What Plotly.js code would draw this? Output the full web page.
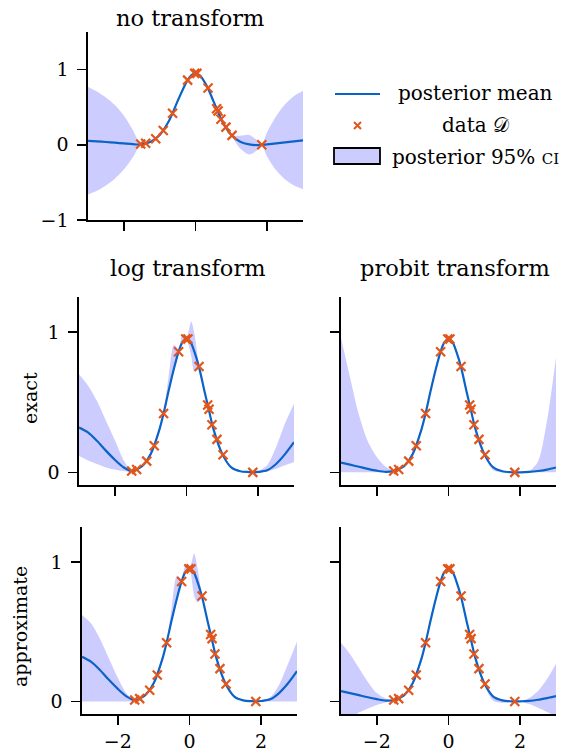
<!DOCTYPE html>
<html>
<head>
<meta charset="utf-8">
<script src="https://cdn.plot.ly/plotly-3.0.1.min.js"></script>
<style>html,body{margin:0;padding:0;background:#fff;}#chart{width:574px;height:753px;}</style>
</head>
<body>
<div id="chart"></div>
<script>
// ---- data ----
const xGrid = [-3,-2.75,-2.5,-2.25,-2,-1.75,-1.53,-1.25,-1,-0.75,-0.64,-0.5,-0.35,-0.22,-0.12,0,0.13,0.22,0.35,0.5,0.62,0.75,1,1.25,1.5,1.75,1.85,2,2.25,2.5,2.75,3];

const dataX = [-1.53,-1.39,-1.11,-0.90,-0.64,-0.22,-0.02,0.04,0.35,0.59,0.63,0.71,0.85,1.02,1.85];
const dataY = [0.01,0.02,0.08,0.19,0.42,0.86,0.95,0.95,0.755,0.48,0.45,0.34,0.235,0.125,0.0];

// no transform
const meanNone  = [0.053,0.045,0.037,0.028,0.018,0.008,0.005, 0.042,0.13,0.31,0.42,0.58,0.74,0.86,0.925,0.95,0.92,0.86,0.75,0.58,0.45,0.31,0.13, 0.04,0.005,-0.004,0.0,0.006,0.018,0.032,0.046,0.06];
const upperNone = [0.77,0.71,0.63,0.53,0.39,0.2,0.012, 0.052,0.14,0.322,0.425,0.595,0.76,0.865,0.935,0.955,0.93,0.87,0.755,0.59,0.455,0.32,0.135, 0.12,0.13,0.05,0.005,0.17,0.38,0.54,0.65,0.72];
const lowerNone = [-0.66,-0.61,-0.54,-0.45,-0.33,-0.17,0.0, 0.032,0.12,0.298,0.415,0.565,0.72,0.855,0.915,0.945,0.91,0.85,0.745,0.57,0.445,0.30,0.125, -0.05,-0.13,-0.058,-0.005,-0.16,-0.34,-0.46,-0.54,-0.59];

// log transform, exact
const meanLogEx  = [0.32,0.285,0.225,0.155,0.09,0.035,0.01, 0.042,0.13,0.31,0.42,0.58,0.74,0.86,0.925,0.95,0.92,0.86,0.75,0.58,0.45,0.31,0.13, 0.035,0.008,0.002,0.0,0.003,0.015,0.06,0.13,0.215];
const upperLogEx = [0.70,0.62,0.51,0.37,0.23,0.085,0.015, 0.048,0.14,0.33,0.43,0.68,0.91,0.875,0.975,0.96,1.075,0.99,0.76,0.6,0.46,0.325,0.14, 0.045,0.012,0.004,0.002,0.008,0.05,0.18,0.35,0.49];
const lowerLogEx = [0.117,0.085,0.06,0.035,0.02,0.008,0.005, 0.036,0.12,0.295,0.41,0.565,0.72,0.845,0.91,0.94,0.83,0.72,0.74,0.565,0.44,0.30,0.12, 0.028,0.005,0.001,0.0,0.001,0.006,0.025,0.05,0.074];

// probit transform, exact
const meanProEx  = [0.07,0.055,0.04,0.025,0.012,0.004,0.01, 0.042,0.13,0.31,0.42,0.58,0.74,0.86,0.925,0.95,0.92,0.86,0.75,0.58,0.45,0.31,0.13, 0.035,0.008,0.001,0.0,0.0,0.003,0.01,0.02,0.035];
const upperProEx = [0.96,0.68,0.41,0.22,0.11,0.04,0.012, 0.05,0.14,0.33,0.43,0.60,0.76,0.87,0.93,0.955,0.925,0.87,0.755,0.59,0.455,0.32,0.14, 0.045,0.012,0.003,0.001,0.003,0.01,0.08,0.37,0.82];
const lowerProEx = [0,0,0,0,0.001,0.001,0.008, 0.035,0.12,0.30,0.415,0.57,0.73,0.855,0.92,0.945,0.915,0.855,0.745,0.57,0.445,0.30,0.115, 0.015,0,0,0,0,0,0,0,0];

// log transform, approximate
const meanLogAp  = [0.32,0.285,0.225,0.155,0.09,0.035,0.01, 0.042,0.13,0.31,0.42,0.58,0.74,0.86,0.925,0.95,0.92,0.86,0.75,0.58,0.45,0.31,0.13, 0.035,0.008,0.002,0.0,0.003,0.015,0.06,0.13,0.217];
const upperLogAp = [0.62,0.56,0.45,0.31,0.17,0.055,0.012, 0.048,0.14,0.33,0.43,0.67,0.90,0.875,0.97,0.96,1.06,0.96,0.76,0.6,0.46,0.325,0.14, 0.045,0.012,0.004,0.002,0.005,0.03,0.12,0.27,0.43];
const lowerLogAp = [0,0,0,0,0,0,0.005, 0.036,0.12,0.295,0.41,0.565,0.72,0.845,0.91,0.94,0.76,0.71,0.74,0.565,0.44,0.30,0.12, 0.028,0.005,0.001,0,0,0,0,0,0];

// probit transform, approximate
const meanProAp  = [0.074,0.06,0.045,0.03,0.017,0.006,0.01, 0.042,0.13,0.31,0.42,0.58,0.74,0.86,0.925,0.95,0.92,0.86,0.75,0.58,0.45,0.31,0.13, 0.035,0.008,0.001,0.0,0.001,0.004,0.012,0.024,0.038];
const upperProAp = [0.42,0.34,0.24,0.14,0.06,0.02,0.012, 0.05,0.14,0.33,0.43,0.60,0.76,0.87,0.93,0.955,0.925,0.87,0.755,0.59,0.455,0.32,0.14, 0.045,0.015,0.004,0.001,0.004,0.025,0.075,0.16,0.27];
const lowerProAp = [-0.15,-0.12,-0.08,-0.05,-0.025,-0.008,0.008, 0.035,0.12,0.30,0.415,0.57,0.73,0.855,0.92,0.945,0.915,0.855,0.745,0.57,0.445,0.30,0.115, 0.005,-0.01,-0.003,0,-0.004,-0.018,-0.045,-0.075,-0.11];

const xTicks = [-2, 0, 2];
const xTickText = ['\u22122', '0', '2'];
const yTicksTop = [-1, 0, 1];
const yTicksTopText = ['\u22121', '0', '1'];
const yTicksLow = [0, 1];
const yTicksLowText = ['0', '1'];

const panelTitles = ['no transform', 'log transform', 'probit transform'];
const rowLabels = ['exact', 'approximate'];
const legendLabels = ['posterior mean', 'data \uD835\uDC9F', 'posterior 95% <span style="font-size:15px">CI</span>'];

// ---- styles ----
const BLUE = '#0b63c8';
const ORANGE = '#e2561b';
const BAND = 'rgba(0,0,255,0.2)';
const FONT = 'DejaVu Serif, Liberation Serif, serif';

const panels = [
  {mean: meanNone,  up: upperNone,  lo: lowerNone,  ax: ''},
  {mean: meanLogEx, up: upperLogEx, lo: lowerLogEx, ax: '2'},
  {mean: meanProEx, up: upperProEx, lo: lowerProEx, ax: '3'},
  {mean: meanLogAp, up: upperLogAp, lo: lowerLogAp, ax: '4'},
  {mean: meanProAp, up: upperProAp, lo: lowerProAp, ax: '5'}
];

const traces = [];
panels.forEach(p => {
  const xa = 'x' + p.ax, ya = 'y' + p.ax;
  traces.push({x: xGrid, y: p.lo, xaxis: xa, yaxis: ya, mode: 'lines', line: {width: 0, shape: 'spline', smoothing: 0.8}, hoverinfo: 'skip', showlegend: false});
  traces.push({x: xGrid, y: p.up, xaxis: xa, yaxis: ya, mode: 'lines', fill: 'tonexty', fillcolor: BAND, line: {width: 0, shape: 'spline', smoothing: 0.8}, hoverinfo: 'skip', showlegend: false});
  traces.push({x: xGrid, y: p.mean, xaxis: xa, yaxis: ya, mode: 'lines', line: {color: BLUE, width: 2.2, shape: 'spline', smoothing: 0.8}, showlegend: false});
  traces.push({x: dataX, y: dataY, xaxis: xa, yaxis: ya, mode: 'markers', marker: {symbol: 'x-thin', size: 9, line: {width: 2.2, color: ORANGE}, color: ORANGE}, showlegend: false, cliponaxis: false});
});

function W(px) { return px / 574; }
function H(px) { return 1 - px / 753; }

const baseAxis = {
  showline: true, linecolor: '#000', linewidth: 1.7, mirror: false,
  ticks: 'outside', ticklen: 9, tickwidth: 1.5, tickcolor: '#000',
  showgrid: false, zeroline: false, fixedrange: true,
  tickfont: {family: FONT, size: 19, color: '#000'}
};
function xax(dom, anchor, labels) {
  return Object.assign({}, baseAxis, {domain: dom, anchor: anchor, range: [-3, 3],
    tickmode: 'array', tickvals: xTicks, ticktext: xTickText, showticklabels: labels});
}
function yax(dom, anchor, range, vals, text, labels) {
  return Object.assign({}, baseAxis, {domain: dom, anchor: anchor, range: range,
    tickmode: 'array', tickvals: vals, ticktext: text, showticklabels: labels, ticklabelstandoff: 5});
}

function note(text, xpx, ypx, size, angle) {
  return {text: text, x: W(xpx), y: H(ypx), xref: 'paper', yref: 'paper', showarrow: false,
    xanchor: 'center', yanchor: 'middle', textangle: angle || 0, font: {size: size, family: FONT, color: '#000'}};
}

const yLow = [-0.09, 1.25];
const layout = {
  width: 574, height: 753,
  margin: {l: 0, r: 0, t: 0, b: 0},
  paper_bgcolor: '#fff', plot_bgcolor: 'rgba(0,0,0,0)',
  showlegend: false,
  font: {family: FONT, color: '#000'},
  xaxis:  xax([W(88), W(303)], 'y', false),
  yaxis:  yax([H(220), H(32)], 'x', [-1, 1.5], yTicksTop, yTicksTopText, true),
  xaxis2: xax([W(79), W(294)], 'y2', false),
  yaxis2: yax([H(485), H(297)], 'x2', yLow, yTicksLow, yTicksLowText, true),
  xaxis3: xax([W(341), W(556)], 'y3', false),
  yaxis3: yax([H(485), H(297)], 'x3', yLow, yTicksLow, yTicksLowText, false),
  xaxis4: xax([W(82), W(297)], 'y4', true),
  yaxis4: yax([H(714), H(527)], 'x4', yLow, yTicksLow, yTicksLowText, true),
  xaxis5: xax([W(341), W(556)], 'y5', true),
  yaxis5: yax([H(714), H(527)], 'x5', yLow, yTicksLow, yTicksLowText, false),
  annotations: [
    note(panelTitles[0], 190, 18, 22.5),
    note(panelTitles[1], 188, 268, 22.5),
    note(panelTitles[2], 455, 268, 22.5),
    note(rowLabels[0], 30, 398, 19, -90),
    note(rowLabels[1], 20, 627, 19, -90),
    note(legendLabels[0], 475, 93, 20),
    note(legendLabels[1], 475, 125, 20),
    note(legendLabels[2], 475, 157, 20)
  ],
  shapes: [
    {type: 'line', xref: 'paper', yref: 'paper', x0: W(335), x1: W(380), y0: H(94), y1: H(94), line: {color: BLUE, width: 2}},
    {type: 'path', xref: 'paper', yref: 'paper',
     path: 'M ' + W(354) + ' ' + H(122) + ' L ' + W(361) + ' ' + H(129) + ' M ' + W(361) + ' ' + H(122) + ' L ' + W(354) + ' ' + H(129),
     line: {color: ORANGE, width: 2}},
    {type: 'rect', xref: 'paper', yref: 'paper', x0: W(334), x1: W(380), y0: H(148), y1: H(164), fillcolor: BAND, line: {color: '#000', width: 1.8}}
  ]
};

Plotly.newPlot('chart', traces, layout, {staticPlot: true, displayModeBar: false});
</script>
</body>
</html>
